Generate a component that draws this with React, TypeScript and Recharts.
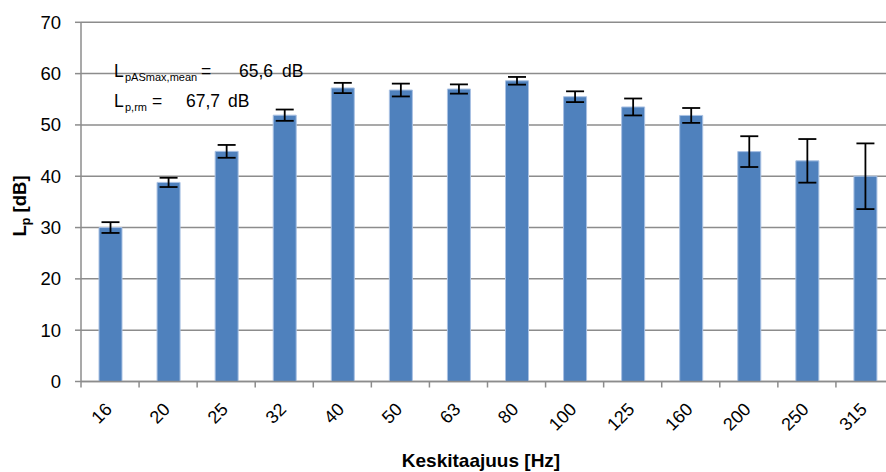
import React from 'react';
import { BarChart, Bar, XAxis, YAxis, CartesianGrid, ErrorBar, Customized } from 'recharts';

// Centre frequencies (Hz)
const frequencies = ['16', '20', '25', '32', '40', '50', '63', '80', '100', '125', '160', '200', '250', '315'];
// Mean sound pressure level per band (dB)
const levels = [30.0, 38.8, 44.85, 51.9, 57.2, 56.8, 57.0, 58.6, 55.5, 53.5, 51.85, 44.8, 43.0, 40.0];
// Deviation shown as error bars (dB)
const deviations = [1.05, 0.9, 1.25, 1.1, 1.0, 1.25, 0.9, 0.75, 1.05, 1.65, 1.45, 3.0, 4.25, 6.4];
// Y axis ticks
const yTicks = [0, 10, 20, 30, 40, 50, 60, 70];
// Category boundaries for the tick marks between bars
const boundaryTicks = Array.from({ length: frequencies.length + 1 }, (_, i) => i);

const data = frequencies.map((f, i) => ({ freq: f, level: levels[i], err: deviations[i] }));

const FONT = '"Liberation Sans", Arial, sans-serif';
const GRID = '#8c8c8c';

const EmptyTick = () => <g />;

const FreqTick = (props: any) => {
  const { x, y, payload } = props;
  return (
    <g transform={`translate(${x + 3},${y + 21}) rotate(-45)`}>
      <text x={0} y={0} textAnchor="end" fill="#000" fontSize={18} fontFamily={FONT}>
        {payload.value}
      </text>
    </g>
  );
};

const Annotations = () => (
  <g fontFamily={FONT} fill="#000">
    <text y={77} fontSize={17.5}>
      <tspan x={114}>L</tspan>
      <tspan x={125} dy={4} fontSize={11}>pASmax,mean</tspan>
      <tspan x={201} dy={-4}>=</tspan>
      <tspan x={239}>65,6</tspan>
      <tspan x={282}>dB</tspan>
    </text>
    <text y={107} fontSize={17.5}>
      <tspan x={114}>L</tspan>
      <tspan x={125} dy={4} fontSize={11}>p,rm</tspan>
      <tspan x={152} dy={-4}>=</tspan>
      <tspan x={186}>67,7</tspan>
      <tspan x={228}>dB</tspan>
    </text>
    <text x={481} y={467} textAnchor="middle" fontSize={19} fontWeight="bold">
      Keskitaajuus [Hz]
    </text>
    <text transform="translate(26,206) rotate(-90)" textAnchor="middle" fontSize={18.5} fontWeight="bold">
      L<tspan dy={4} fontSize={12.5}>p</tspan>
      <tspan dy={-4}> [dB]</tspan>
    </text>
  </g>
);

export default function App() {
  return (
    <div style={{ position: 'fixed', left: 0, top: 0, width: 886, height: 472, overflow: 'hidden', background: '#fff' }}>
      <BarChart
        width={900}
        height={472}
        data={data}
        margin={{ top: 22.3, right: 6, bottom: 22.5, left: 0 }}
      >
        <CartesianGrid vertical={false} stroke={GRID} strokeWidth={1.5} />
        <XAxis
          xAxisId="bounds"
          type="number"
          dataKey="idx"
          domain={[0, frequencies.length]}
          ticks={boundaryTicks}
          allowDataOverflow
          height={8}
          tickSize={6}
          tick={<EmptyTick />}
          tickLine={{ stroke: GRID, strokeWidth: 1.5 }}
          axisLine={{ stroke: GRID, strokeWidth: 1.5 }}
        />
        <XAxis
          xAxisId="freq"
          dataKey="freq"
          height={60}
          axisLine={false}
          tickLine={false}
          tickSize={0}
          tickMargin={0}
          interval={0}
          tick={<FreqTick />}
        />
        <YAxis
          width={81}
          domain={[0, 70]}
          ticks={yTicks}
          tickSize={6}
          tickMargin={14}
          axisLine={{ stroke: GRID, strokeWidth: 1.5 }}
          tickLine={{ stroke: GRID, strokeWidth: 1.5 }}
          tick={{ fill: '#000', fontSize: 18.5, fontFamily: FONT }}
        />
        <Bar
          xAxisId="freq"
          dataKey="level"
          fill="#4F81BD"
          stroke="#a9c1e3"
          strokeWidth={1}
          barSize={23}
          isAnimationActive={false}
        >
          <ErrorBar dataKey="err" direction="y" width={9} stroke="#000" strokeWidth={1.8} />
        </Bar>
        <Customized component={<Annotations />} />
      </BarChart>
    </div>
  );
}
